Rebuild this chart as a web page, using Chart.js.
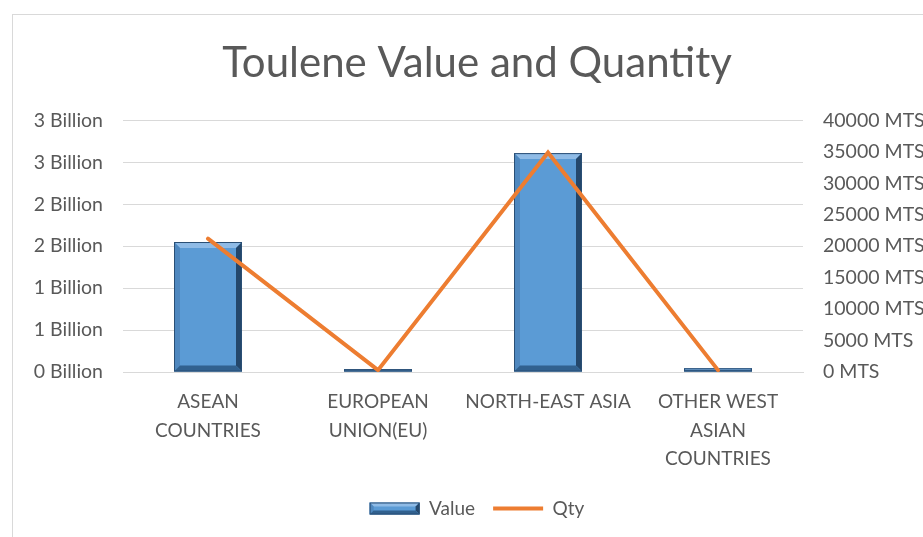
<!DOCTYPE html>
<html>
<head>
<meta charset="utf-8">
<script src="https://cdn.jsdelivr.net/npm/chart.js@4/dist/chart.umd.min.js"></script>
<style>
    html, body { margin: 0; padding: 0; background: #fff; overflow: hidden; }
    #box { position: absolute; left: 12px; top: 14px; width: 928px; height: 540px; border: 1px solid #d9d9d9; }
    #chart { display: block; }
</style>
</head>
<body>
<div id="box"><canvas id="chart" width="928" height="540"></canvas></div>
<script>
const categories = [
    ["ASEAN", "COUNTRIES"],
    ["EUROPEAN", "UNION(EU)"],
    ["NORTH-EAST ASIA"],
    ["OTHER WEST", "ASIAN", "COUNTRIES"]
];
const valueData = [1550000000, 35000000, 2610000000, 45000000];
const qtyData = [21200, 300, 34900, 300];

const textColor = "#595959";
const gridColor = "#d9d9d9";
const fontFamily = "Lato, 'Open Sans', sans-serif";

function drawBevel(ctx, l, t, r, b, size) {
    const d = Math.min(size, (b - t) / 2, (r - l) / 2);
    if (d <= 0) return;
    const poly = (pts, color) => {
        ctx.beginPath();
        ctx.moveTo(pts[0][0], pts[0][1]);
        pts.slice(1).forEach((q) => ctx.lineTo(q[0], q[1]));
        ctx.closePath();
        ctx.fillStyle = color;
        ctx.fill();
    };
    ctx.save();
    poly([[l, t], [r, t], [r - d, t + d], [l + d, t + d]], "#8fbbe6");
    poly([[l, t], [l + d, t + d], [l + d, b - d], [l, b]], "#4f88bf");
    poly([[r, t], [r, b], [r - d, b - d], [r - d, t + d]], "#24476b");
    poly([[l, b], [l + d, b - d], [r - d, b - d], [r, b]], "#31618f");
    ctx.strokeStyle = "#2a4f75";
    ctx.lineWidth = 1;
    ctx.strokeRect(l + 0.5, t + 0.5, r - l - 1, b - t - 1);
    ctx.restore();
}

// bevel edges on the bars and on the legend box
const bevelPlugin = {
    id: "bevel",
    afterDatasetDraw(chart, args) {
        if (args.index !== 0) return;
        args.meta.data.forEach((bar) => {
            const p = bar.getProps(["x", "y", "base", "width"], true);
            drawBevel(chart.ctx, p.x - p.width / 2, Math.min(p.y, p.base),
                p.x + p.width / 2, Math.max(p.y, p.base), 6);
        });
    },
    afterDraw(chart) {
        const lg = chart.legend;
        if (!lg || !lg.legendHitBoxes.length) return;
        const hb = lg.legendHitBoxes[0];
        const bw = lg.options.labels.boxWidth, bh = lg.options.labels.boxHeight;
        const cy = hb.top + hb.height / 2;
        drawBevel(chart.ctx, hb.left, cy - bh / 2, hb.left + bw, cy + bh / 2, 4);
    }
};

new Chart(document.getElementById("chart"), {
    type: "bar",
    data: {
        labels: categories,
        datasets: [
            {
                label: "Value",
                data: valueData,
                yAxisID: "y",
                backgroundColor: "#5b9bd5",
                borderWidth: 0,
                categoryPercentage: 0.8,
                barPercentage: 0.5,
                pointStyle: "rect",
                order: 2
            },
            {
                label: "Qty",
                type: "line",
                data: qtyData,
                yAxisID: "y2",
                borderColor: "#ed7d31",
                backgroundColor: "#ed7d31",
                borderWidth: 4,
                borderCapStyle: "round",
                pointRadius: 0,
                pointStyle: "line",
                tension: 0,
                order: 1
            }
        ]
    },
    options: {
        responsive: false,
        animation: false,
        layout: { padding: { top: 23, bottom: 27 } },
        plugins: {
            title: {
                display: true,
                text: "Toulene Value and Quantity",
                color: textColor,
                font: { family: fontFamily, size: 42, weight: "normal" },
                padding: { top: 0, bottom: 32 }
            },
            legend: {
                position: "bottom",
                labels: {
                    usePointStyle: true,
                    pointStyleWidth: 50,
                    boxWidth: 50,
                    boxHeight: 12,
                    padding: 18,
                    color: textColor,
                    font: { family: fontFamily, size: 19 },
                    sort: (a, b) => a.datasetIndex - b.datasetIndex
                }
            },
            tooltip: { enabled: false }
        },
        scales: {
            x: {
                grid: { display: false },
                border: { color: gridColor },
                ticks: {
                    color: textColor,
                    maxRotation: 0,
                    autoSkip: false,
                    padding: 8,
                    font: { family: fontFamily, size: 19, lineHeight: 1.5 }
                },
                afterFit(scale) { scale.height = 109; }
            },
            y: {
                position: "left",
                min: 0,
                max: 3000000000,
                grid: { color: gridColor, drawTicks: false },
                border: { display: false },
                ticks: {
                    stepSize: 500000000,
                    padding: 20,
                    color: textColor,
                    font: { family: fontFamily, size: 19.5 },
                    callback: (v) => Math.round(v / 1000000000) + " Billion"
                },
                afterFit(scale) { scale.width = 110; }
            },
            y2: {
                position: "right",
                min: 0,
                max: 40000,
                grid: { display: false, drawTicks: false },
                border: { display: false },
                ticks: {
                    stepSize: 5000,
                    padding: 20,
                    color: textColor,
                    font: { family: fontFamily, size: 19.5 },
                    callback: (v) => v + " MTS"
                },
                afterFit(scale) { scale.width = 138; }
            }
        }
    },
    plugins: [bevelPlugin]
});
</script>
</body>
</html>
